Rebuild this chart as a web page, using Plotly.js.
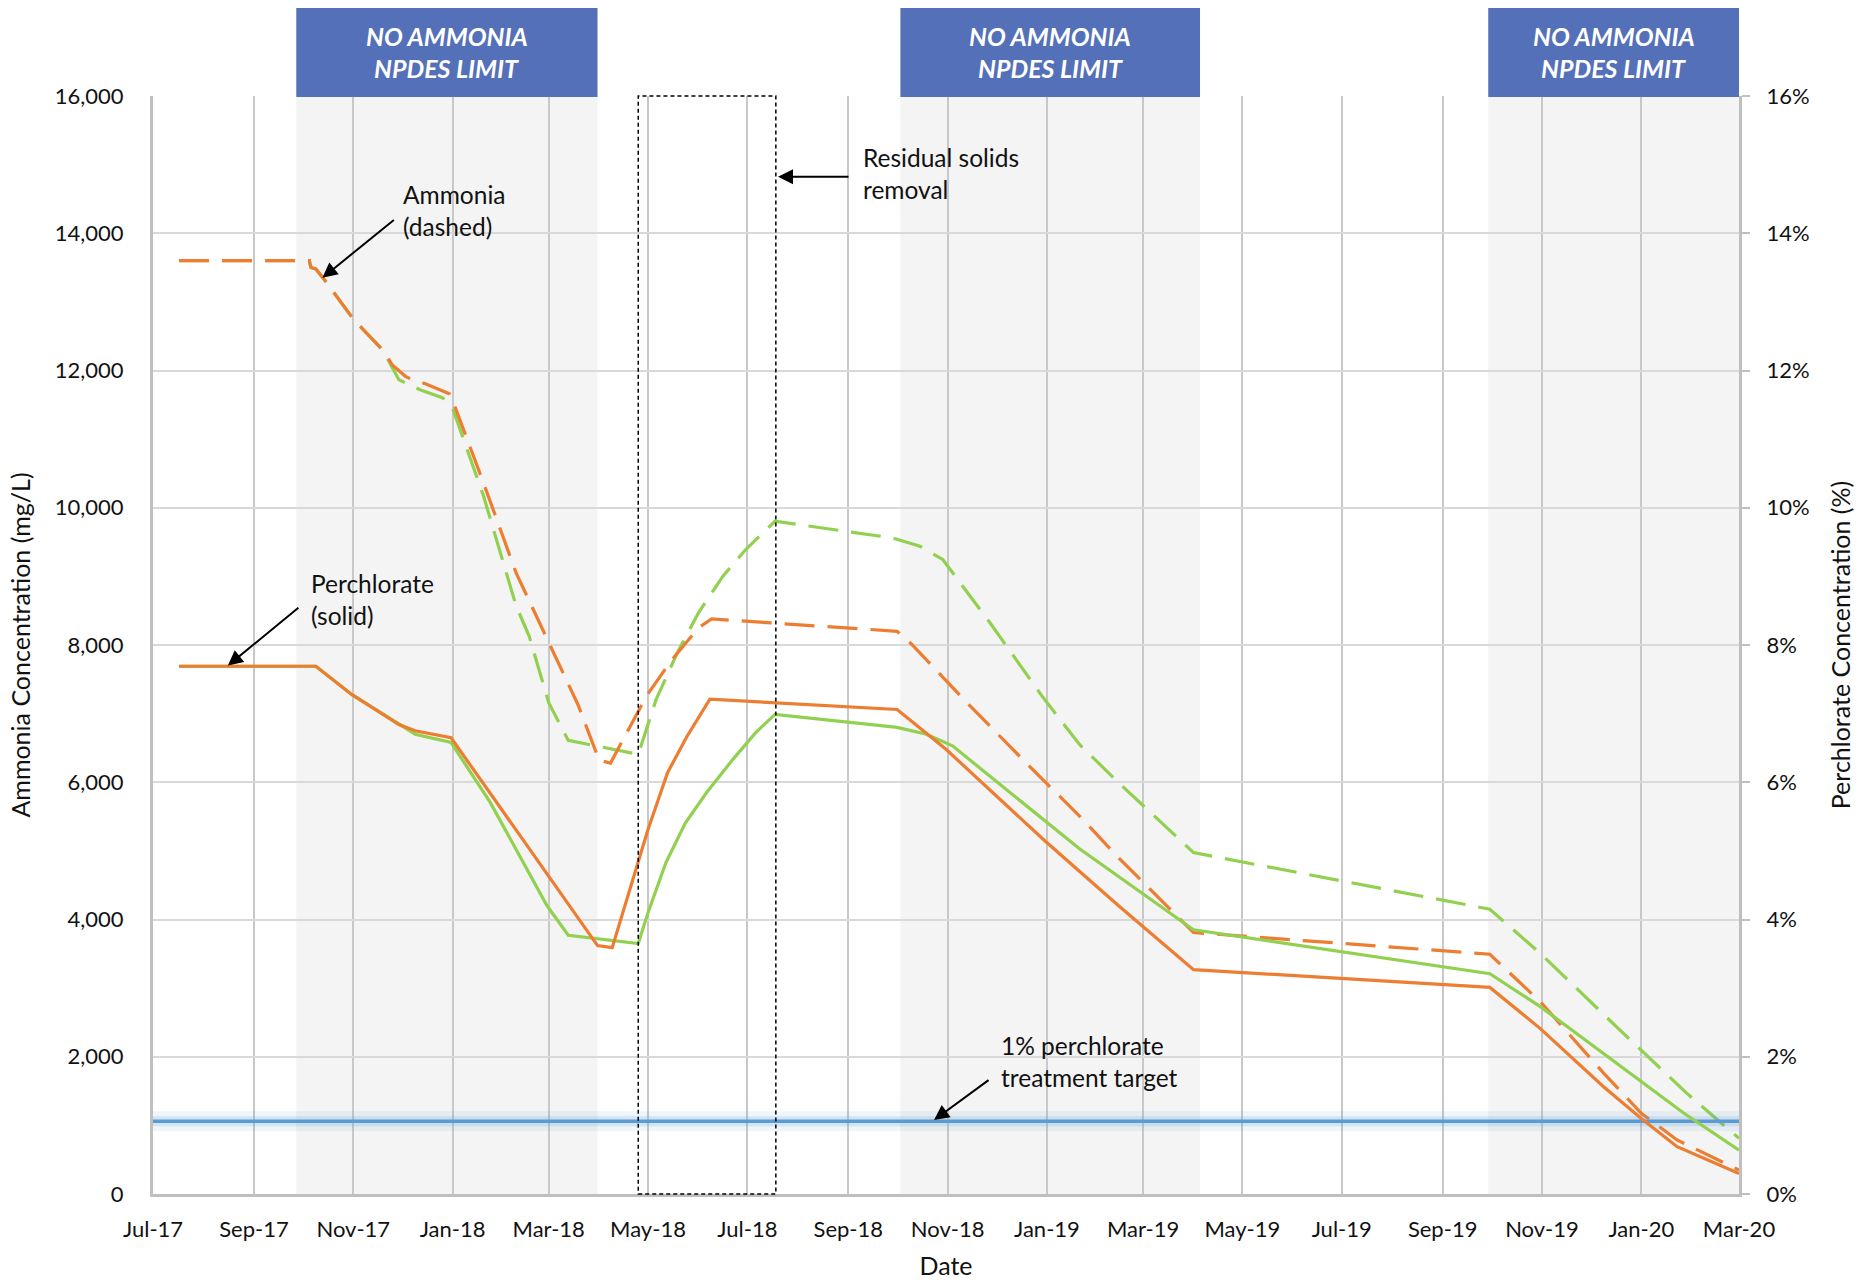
<!DOCTYPE html>
<html>
<head>
<meta charset="utf-8">
<script src="https://cdn.plot.ly/plotly-3.0.1.min.js"></script>
<style>html,body{margin:0;padding:0;background:#fff;}</style>
</head>
<body>
<div id="chart" style="width:1871px;height:1280px;"></div>
<script>
// ---------------- DATA ----------------
// Ammonia (mg/L), left axis - orange dashed
const ammoniaOrangeDates = ['2017-07-17','2017-09-27','2017-10-05','2017-10-06','2017-10-09','2017-10-15','2017-11-01','2017-11-19','2017-11-25','2017-12-03','2017-12-07','2017-12-16','2017-12-30','2018-01-02','2018-01-20','2018-02-09','2018-03-01','2018-03-19','2018-04-01','2018-04-08','2018-04-30','2018-05-15','2018-06-01','2018-06-09','2018-10-01','2018-10-10','2018-11-12','2018-12-23','2019-01-21','2019-02-14','2019-04-01','2019-09-30','2019-10-07','2019-10-31','2019-12-09','2020-01-01','2020-01-23','2020-03-01'];
const ammoniaOrangeValues = [13600,13600,13600,13500,13480,13300,12750,12300,12080,11915,11870,11800,11660,11500,10360,9050,8050,7130,6320,6280,7255,7765,8250,8380,8200,8010,7180,6190,5508,4900,3810,3494,3336,2802,1758,1176,787,350];

// Ammonia (mg/L), left axis - green dashed
const ammoniaGreenDates = ['2017-07-17','2017-09-27','2017-10-05','2017-10-06','2017-10-09','2017-10-15','2017-11-01','2017-11-19','2017-11-23','2017-11-29','2017-12-12','2017-12-26','2018-01-01','2018-01-20','2018-02-09','2018-02-17','2018-03-01','2018-03-13','2018-04-25','2018-05-06','2018-05-19','2018-06-01','2018-06-16','2018-06-30','2018-07-18','2018-09-28','2018-10-15','2018-10-29','2018-11-27','2018-12-29','2019-01-21','2019-02-14','2019-04-01','2019-09-30','2019-10-31','2019-12-21','2020-01-29','2020-03-01'];
const ammoniaGreenValues = [13600,13600,13600,13500,13480,13300,12750,12300,12130,11866,11720,11600,11450,10170,8570,8130,7160,6610,6406,7207,7887,8469,9003,9391,9803,9561,9439,9246,8324,7255,6550,5994,4975,4150,3505,2340,1466,811];

// Perchlorate (%), right axis - orange solid
const perchOrangeDates = ['2017-07-17','2017-10-09','2017-10-31','2017-11-29','2017-12-09','2017-12-31','2018-03-31','2018-04-09','2018-05-01','2018-05-13','2018-05-25','2018-06-08','2018-10-01','2018-10-31','2018-12-31','2019-02-14','2019-04-01','2019-09-30','2019-10-31','2019-12-09','2020-01-01','2020-01-23','2020-03-01'];
const perchOrangeValues = [7.69,7.69,7.28,6.84,6.75,6.65,3.62,3.59,5.31,6.14,6.67,7.21,7.06,6.48,5.14,4.20,3.27,3.01,2.41,1.56,1.10,0.69,0.30];

// Perchlorate (%), right axis - green solid
const perchGreenDates = ['2017-07-17','2017-10-09','2017-10-31','2017-11-29','2017-12-09','2017-12-31','2018-01-24','2018-02-28','2018-03-13','2018-04-25','2018-05-01','2018-05-12','2018-05-24','2018-06-06','2018-06-22','2018-07-06','2018-07-18','2018-10-01','2018-10-19','2018-11-04','2019-01-21','2019-04-01','2019-09-30','2019-10-31','2020-01-01','2020-01-27','2020-03-01'];
const perchGreenValues = [7.69,7.69,7.28,6.84,6.70,6.58,5.71,4.20,3.77,3.65,4.10,4.83,5.41,5.85,6.33,6.72,6.99,6.80,6.70,6.53,5.03,3.85,3.21,2.73,1.64,1.18,0.64];

// 1% perchlorate treatment target (as drawn)
const targetPct = 1.06;
const xRange = ['2017-07-01','2020-03-01'];

// Periods with no ammonia NPDES limit
const noLimitStarts = ['2017-09-27','2018-10-03','2019-09-29'];
const noLimitEnds   = ['2018-03-31','2019-04-05','2020-03-01'];
const noLimitLine1 = 'NO AMMONIA';
const noLimitLine2 = 'NPDES LIMIT';

// Residual solids removal window
const removalStart = '2018-04-25';
const removalEnd = '2018-07-18 12:00';

// ---------------- STYLE ----------------
const FONT = 'Lato, "Open Sans", "Liberation Sans", sans-serif';
const ORANGE = '#ED7D31';
const GREEN = '#92D050';
const BLUE = '#5B9BD5';
const TXT = '#111111';

const traces = [
  {x: xRange, y: [targetPct, targetPct], yaxis: 'y2', mode: 'lines', line: {color: 'rgba(91,155,213,0.10)', width: 20}, hoverinfo: 'skip', showlegend: false},
  {x: xRange, y: [targetPct, targetPct], yaxis: 'y2', mode: 'lines', line: {color: 'rgba(91,155,213,0.18)', width: 10}, hoverinfo: 'skip', showlegend: false},
  {x: xRange, y: [targetPct, targetPct], yaxis: 'y2', mode: 'lines', line: {color: BLUE, width: 3.5}, name: 'Target', showlegend: false},
  {x: ammoniaGreenDates, y: ammoniaGreenValues, mode: 'lines', line: {color: GREEN, width: 3.2, dash: '30px,13px'}, name: 'Ammonia (green)', showlegend: false},
  {x: ammoniaOrangeDates, y: ammoniaOrangeValues, mode: 'lines', line: {color: ORANGE, width: 3.2, dash: '30px,13px'}, name: 'Ammonia (orange)', showlegend: false},
  {x: perchGreenDates, y: perchGreenValues, yaxis: 'y2', mode: 'lines', line: {color: GREEN, width: 3.2}, name: 'Perchlorate (green)', showlegend: false},
  {x: perchOrangeDates, y: perchOrangeValues, yaxis: 'y2', mode: 'lines', line: {color: ORANGE, width: 3.2}, name: 'Perchlorate (orange)', showlegend: false}
];

function toUTC(s) { return s.length === 10 ? s + 'T00:00:00Z' : s.replace(' ', 'T') + ':00Z'; }
function mid(a, b) { return new Date((Date.parse(toUTC(a)) + Date.parse(toUTC(b))) / 2).toISOString().slice(0, 16).replace('T', ' '); }

const shapes = [];
const annotations = [];
noLimitStarts.forEach((s, i) => {
  shapes.push({type: 'rect', xref: 'x', yref: 'paper', x0: s, x1: noLimitEnds[i], y0: 0, y1: 1, fillcolor: '#f4f4f4', line: {width: 0}, layer: 'below'});
  shapes.push({type: 'rect', xref: 'x', yref: 'paper', x0: s, x1: noLimitEnds[i], y0: 0.999, y1: 1.0801, fillcolor: '#5470B8', line: {width: 0}, layer: 'above'});
  const mx = mid(s, noLimitEnds[i]);
  annotations.push({xref: 'x', yref: 'paper', x: mx, y: 1.0548, text: '<b><i>' + noLimitLine1 + '</i></b>', showarrow: false, xanchor: 'center', yanchor: 'middle', font: {family: FONT, size: 25, color: '#ffffff'}});
  annotations.push({xref: 'x', yref: 'paper', x: mx, y: 1.0258, text: '<b><i>' + noLimitLine2 + '</i></b>', showarrow: false, xanchor: 'center', yanchor: 'middle', font: {family: FONT, size: 25, color: '#ffffff'}});
});
shapes.push({type: 'rect', xref: 'x', yref: 'paper', x0: removalStart, x1: removalEnd, y0: 0, y1: 1, line: {color: '#000', width: 1.5, dash: '4px,3px'}, fillcolor: 'rgba(0,0,0,0)', layer: 'above'});

const annFont = {family: FONT, size: 24.5, color: TXT};
function label(text, x, y) {
  annotations.push({xref: 'x', yref: 'y', x: x, y: y, text: text, showarrow: false, xanchor: 'left', yanchor: 'middle', align: 'left', font: annFont});
}
function arrow(x, y, ax, ay) {
  annotations.push({xref: 'x', yref: 'y', x: x, y: y, text: '', showarrow: true, arrowhead: 2, arrowsize: 1.5, arrowwidth: 2, arrowcolor: '#000', ax: ax, ay: ay, standoff: 0});
}
label('Ammonia<br>(dashed)', '2017-11-30 14:00', 14330);
arrow('2017-10-13', 13350, 73, -59);
label('Perchlorate<br>(solid)', '2017-10-05', 8670);
arrow('2017-08-16', 7700, 72, -59);
label('Residual solids<br>removal', '2018-09-09', 14876);
arrow('2018-07-19 20:00', 14822, 72, 0);
label('1% perchlorate<br>treatment target', '2018-12-02 16:00', 1938);
arrow('2018-10-23 16:00', 1078, 56, -41);

const tickFont = {family: FONT, size: 22, color: TXT};
const titleFont = {family: FONT, size: 25, color: TXT};
const layout = {
  width: 1871, height: 1280,
  margin: {l: 153, r: 132, t: 96, b: 86},
  paper_bgcolor: '#ffffff', plot_bgcolor: '#ffffff',
  font: {family: FONT, color: TXT},
  showlegend: false,
  xaxis: {
    type: 'date', range: xRange, tick0: '2017-07-01', dtick: 'M2', tickformat: '%b-%y',
    showgrid: true, gridcolor: '#c8c8c8', gridwidth: 2, zeroline: false,
    showline: true, linecolor: '#bfbfbf', linewidth: 3, ticks: '',
    tickfont: tickFont, ticklabelstandoff: 14, automargin: false,
    title: {text: 'Date', font: titleFont, standoff: 18}
  },
  yaxis: {
    range: [0, 16000], dtick: 2000, tickformat: ',d',
    showgrid: true, gridcolor: '#d9d9d9', gridwidth: 2, zeroline: false,
    showline: true, linecolor: '#bfbfbf', linewidth: 3, ticks: '',
    tickfont: tickFont, ticklabelstandoff: 22, automargin: false,
    title: {text: 'Ammonia Concentration (mg/L)', font: titleFont, standoff: 18}
  },
  yaxis2: {
    overlaying: 'y', side: 'right', range: [0, 16], dtick: 2, ticksuffix: '%',
    showgrid: false, zeroline: false,
    showline: true, linecolor: '#bfbfbf', linewidth: 3,
    ticks: 'outside', ticklen: 8, tickwidth: 2, tickcolor: '#bfbfbf',
    tickfont: tickFont, ticklabelstandoff: 12, automargin: false,
    title: {text: 'Perchlorate Concentration (%)', font: titleFont, standoff: 24}
  },
  shapes: shapes,
  annotations: annotations
};

Plotly.newPlot('chart', traces, layout, {displayModeBar: false, staticPlot: true});
</script>
</body>
</html>
